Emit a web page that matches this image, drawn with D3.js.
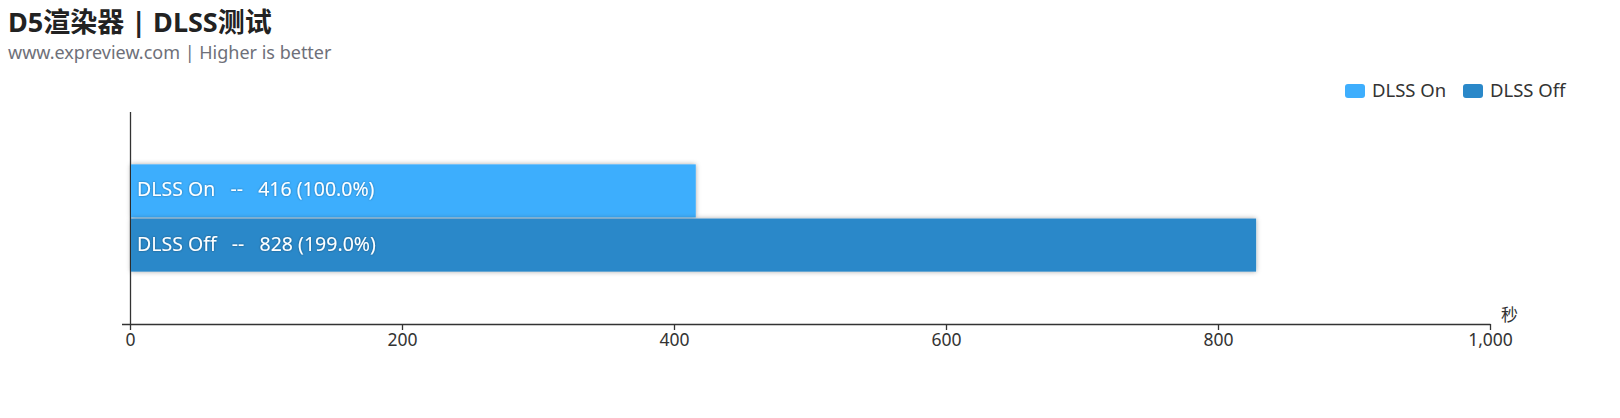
<!DOCTYPE html>
<html>
<head>
<meta charset="utf-8">
<script src="https://cdn.jsdelivr.net/npm/d3@7"></script>
<style>
  body { margin: 0; background: #fff; }
  text { font-family: "Noto Sans", "Noto Sans CJK SC", sans-serif; }
</style>
</head>
<body>
<div id="chart"></div>
<script>
// chart data
var categories = ["D5渲染器"];
var seriesNames = ["DLSS On", "DLSS Off"];
var seriesValues = [416, 828];
var seriesPct = ["100.0%", "199.0%"];
var seriesColors = ["#3eaefd", "#2a88c9"];
var xTicks = [0, 200, 400, 600, 800, 1000];

var W = 1620, H = 418;
var margin = {top: 112, right: 130, bottom: 94, left: 130},
    width = W - margin.left - margin.right,
    height = H - margin.top - margin.bottom;

var svg = d3.select("#chart").append("svg")
    .attr("width", W)
    .attr("height", H);

var defs = svg.append("defs");
var f = defs.append("filter").attr("id", "shadow")
    .attr("x", "-5%").attr("y", "-30%").attr("width", "110%").attr("height", "160%");
f.append("feDropShadow").attr("dx", 0).attr("dy", 0).attr("stdDeviation", 2.5)
    .attr("flood-color", "#000").attr("flood-opacity", 0.35);
var tf = defs.append("filter").attr("id", "tshadow")
    .attr("x", "-5%").attr("y", "-30%").attr("width", "110%").attr("height", "160%");
tf.append("feDropShadow").attr("dx", 0).attr("dy", 0).attr("stdDeviation", 1)
    .attr("flood-color", "#000").attr("flood-opacity", 0.4);

// title
svg.append("text")
    .text("D5渲染器 | DLSS测试")
    .attr("x", 8).attr("y", 32)
    .style("font-size", "27px")
    .style("font-weight", "bold")
    .style("fill", "#222");
svg.append("text")
    .text("www.expreview.com | Higher is better")
    .attr("x", 8).attr("y", 59)
    .style("font-size", "18px")
    .style("fill", "#6e7079");

// legend
var lx = [1345, 1463];
seriesNames.forEach(function(name, i) {
    svg.append("rect")
        .attr("x", lx[i]).attr("y", 84)
        .attr("width", 20).attr("height", 14)
        .attr("rx", 3)
        .attr("fill", seriesColors[i]);
    svg.append("text")
        .text(name)
        .attr("x", lx[i] + 27).attr("y", 97)
        .style("font-size", "18.5px")
        .style("fill", "#333");
});

var g = svg.append("g")
    .attr("transform", "translate(" + margin.left + "," + margin.top + ")");

var x = d3.scaleLinear().domain([0, 1000]).range([0, width]);
var y = d3.scaleBand().domain(categories).range([height, 0]).padding(0);
var ys = d3.scaleBand().domain(seriesNames)
    .range([y.bandwidth() * 0.247, y.bandwidth() * 0.753]).paddingInner(0.02);

// x axis
var xAxis = g.append("g")
    .attr("transform", "translate(0," + height + ")")
    .call(d3.axisBottom(x).tickValues(xTicks).tickSize(6).tickSizeOuter(0)
        .tickFormat(d3.format(",")));
xAxis.select(".domain").attr("d", "M-8,0.5H" + (width + 0.5)).attr("stroke", "#333").attr("stroke-width", 1.3);
xAxis.selectAll(".tick line").attr("stroke", "#333").attr("stroke-width", 1.3);
xAxis.selectAll(".tick text")
    .attr("dy", "0.71em").attr("y", 10)
    .style("font-size", "17.5px")
    .style("fill", "#333");
g.append("text")
    .text("秒")
    .attr("x", width + 11).attr("y", height - 3)
    .style("font-size", "17px")
    .style("fill", "#333");

// y axis line
g.append("line")
    .attr("x1", 0.5).attr("x2", 0.5)
    .attr("y1", 0).attr("y2", height)
    .attr("stroke", "#333").attr("stroke-width", 1.3);

// bars
var bars = seriesNames.map(function(name, i) {
    return {name: name, value: seriesValues[i], pct: seriesPct[i], color: seriesColors[i], cat: categories[0]};
});

g.selectAll(".bar")
    .data(bars)
    .enter().append("rect")
    .attr("class", "bar")
    .attr("x", x(0) + 1)
    .attr("y", function(d) { return y(d.cat) + ys(d.name); })
    .attr("width", function(d) { return x(d.value) - x(0) - 1; })
    .attr("height", ys.bandwidth())
    .attr("fill", function(d) { return d.color; })
    .attr("filter", "url(#shadow)");

g.selectAll(".label")
    .data(bars)
    .enter().append("text")
    .attr("class", "label")
    .attr("x", x(0) + 7)
    .attr("y", function(d) { return y(d.cat) + ys(d.name) + ys.bandwidth() / 2; })
    .attr("dy", "0.28em")
    .text(function(d) { return d.name + "   --   " + d.value + " (" + d.pct + ")"; })
    .style("white-space", "pre")
    .style("font-size", "19.5px")
    .style("fill", "#fff")
    .attr("filter", "url(#tshadow)");
</script>
</body>
</html>
